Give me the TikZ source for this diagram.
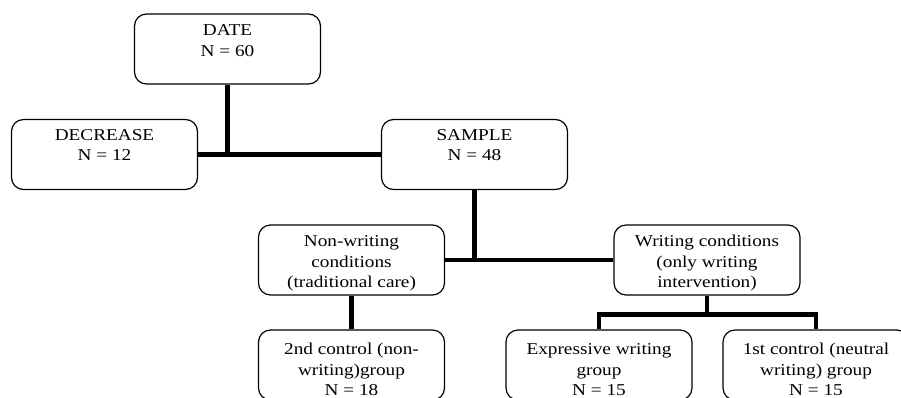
\documentclass[tikz,border=0pt]{standalone}
\usepackage{fontspec}
\setmainfont{Liberation Serif}[FakeStretch=1.16]
\begin{document}
\begin{tikzpicture}[x=1pt,y=-1pt,
  box/.style={draw=black,line width=1.2pt,rounded corners=12pt,minimum width=186pt,minimum height=70pt,inner sep=0pt},
  txt/.style={align=center,inner sep=0pt,anchor=north,font=\fontsize{16.6}{20.5}\selectfont},
  link/.style={draw=black,line width=4.5pt}]
\useasboundingbox (0,0) rectangle (901,397);
\clip (0,0) rectangle (901,397);
% boxes
\node[box] (date) at (227.5,49) {};
\node[box] (decr) at (104.5,154.5) {};
\node[box] (samp) at (474.5,154.5) {};
\node[box] (nonw) at (351.5,260) {};
\node[box] (writ) at (707,260) {};
\node[box] (ctrl2) at (351.5,365) {};
\node[box] (expr) at (599,365) {};
\node[box] (ctrl1) at (816,365) {};
% texts
\node[txt] (datet) at ([yshift=-7.6pt]date.north) {\strut DATE\\N = 60};
\node[txt] (decrt) at ([yshift=-6.6pt]decr.north) {\strut DECREASE\\N = 12};
\node[txt] (sampt) at ([yshift=-6.6pt]samp.north) {\strut SAMPLE\\N = 48};
\node[txt] (nonwt) at ([yshift=-7.6pt]nonw.north) {\strut Non-writing\\conditions\\(traditional care)};
\node[txt] (writt) at ([yshift=-7.6pt]writ.north) {\strut Writing conditions\\(only writing\\intervention)};
\node[txt] (ctrl2t) at ([yshift=-10.6pt]ctrl2.north) {\strut 2nd control (non-\\writing)group\\N = 18};
\node[txt] (exprt) at ([yshift=-10.6pt]expr.north) {\strut Expressive writing\\group\\N = 15};
\node[txt] (ctrl1t) at ([yshift=-10.6pt]ctrl1.north) {\strut 1st control (neutral\\writing) group\\N = 15};
% connectors
\coordinate (wjoin) at ([yshift=-19pt]writ.south);
\path[link] (decr.east) -- (samp.west);
\path[link] (date.south) -- (date.south |- decr.east);
\path[link] (nonw.east) -- (writ.west);
\path[link] (samp.south) -- (samp.south |- nonw.east);
\path[link] (nonw.south) -- (ctrl2.north);
\path[link] (writ.south) -- (wjoin);
\path[link] (expr.north) -- (expr.north |- wjoin) -- (ctrl1.north |- wjoin) -- (ctrl1.north);
\end{tikzpicture}
\end{document}
